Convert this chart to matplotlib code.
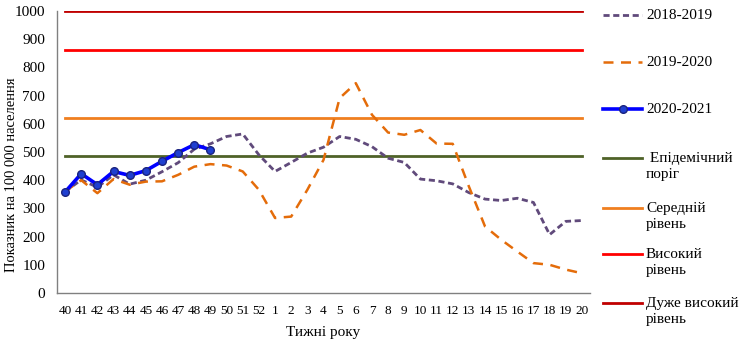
import numpy as np
import matplotlib
matplotlib.use("Agg")
import matplotlib.pyplot as plt
from matplotlib.lines import Line2D

plt.rcParams['font.family'] = ['Liberation Serif', 'DejaVu Serif']

# Weeks of the season (40..52, then 1..20)
weeks = [str(w) for w in range(40, 53)] + [str(w) for w in range(1, 21)]

s2018 = [360, 401, 375, 419, 386, 400, 430, 462, 510, 529, 555, 564, 490,
         431, 463, 496, 517, 555, 545, 519, 478, 463, 404, 398, 387, 356,
         333, 328, 336, 321, 207, 254, 257]
s2019 = [360, 400, 354, 404, 384, 395, 396, 419, 448, 457, 452, 431, 366,
         266, 271, 366, 472, 691, 744, 632, 569, 561, 578, 530, 529, 378,
         236, 189, 147, 106, 100, 83, 70]
s2020 = [358, 423, 384, 431, 417, 434, 467, 498, 526, 508]

# Intensity thresholds
epid = 485
medium = 620
high = 862
very_high = 1000

c_purple = '#604A7B'
c_orange = '#E46C0A'
c_blue = '#0000FF'
c_green = '#4F6228'
c_med = '#F07F1F'
c_high = '#FF0000'
c_vhigh = '#C00000'

fig = plt.figure(figsize=(7.4, 3.42), dpi=100)
ax = fig.add_axes([57 / 740, 49 / 342, 533 / 740, 282 / 342])

x = np.arange(len(weeks))
xl = [0, len(weeks) - 1]

ax.plot(xl, [very_high] * 2, color=c_vhigh, lw=2, zorder=2)
ax.plot(xl, [high] * 2, color=c_high, lw=2, zorder=2)
ax.plot(xl, [medium] * 2, color=c_med, lw=2, zorder=2)
ax.plot(xl, [epid] * 2, color=c_green, lw=2, zorder=2)

ax.plot(x, s2018, color=c_purple, lw=2, dashes=(2.2, 1.3), zorder=3)
ax.plot(x, s2019, color=c_orange, lw=1.8, dashes=(4, 3), zorder=3)
ax.plot(x[:len(s2020)], s2020, color=c_blue, lw=2.6, marker='o', ms=5.5,
        mfc='#1F3FD0', mec='#1A237E', mew=1, zorder=4)

ax.set_xlim(-0.5, len(weeks) - 0.5)
ax.set_ylim(0, 1000)
ax.set_xticks(x)
ax.set_xticklabels(weeks)
ax.set_yticks(range(0, 1001, 100))
ax.tick_params(length=0)
ax.tick_params(axis='y', labelsize=11, pad=8.5)
ax.tick_params(axis='x', labelsize=9.5, pad=9)
for s in ['top', 'right']:
    ax.spines[s].set_visible(False)
for s in ['left', 'bottom']:
    ax.spines[s].set_color('#808080')
    ax.spines[s].set_linewidth(1)

ax.set_ylabel('Показник на 100 000 населення', fontsize=10.5)
ax.yaxis.set_label_coords(-0.073, 0.418)
ax.set_xlabel('Тижні року', fontsize=11, labelpad=6)

# Manual legend on the right
entries = [
    ('2018-2019', dict(color=c_purple, lw=2, dashes=(2.2, 1.3)), 15),
    ('2019-2020', dict(color=c_orange, lw=1.8, dashes=(4, 3)), 62),
    ('2020-2021', dict(color=c_blue, lw=2.6, marker='o', ms=5.5,
                       mfc='#1F3FD0', mec='#1A237E', markevery=[1]), 109),
    (' Епідемічний\nпоріг', dict(color=c_green, lw=2), 158),
    ('Середній\nрівень', dict(color=c_med, lw=2), 208),
    ('Високий\nрівень', dict(color=c_high, lw=2), 254),
    ('Дуже високий\nрівень', dict(color=c_vhigh, lw=2), 303),
]
for label, style, ypx in entries:
    yf = 1 - ypx / 342
    fig.add_artist(Line2D([603 / 740, 622.5 / 740, 642 / 740], [yf] * 3,
                          transform=fig.transFigure, **style))
    fig.text(646 / 740, yf + 6 / 342, label, fontsize=11, va='top',
             ha='left', linespacing=1.3)

fig.savefig('out.png', dpi=100)
